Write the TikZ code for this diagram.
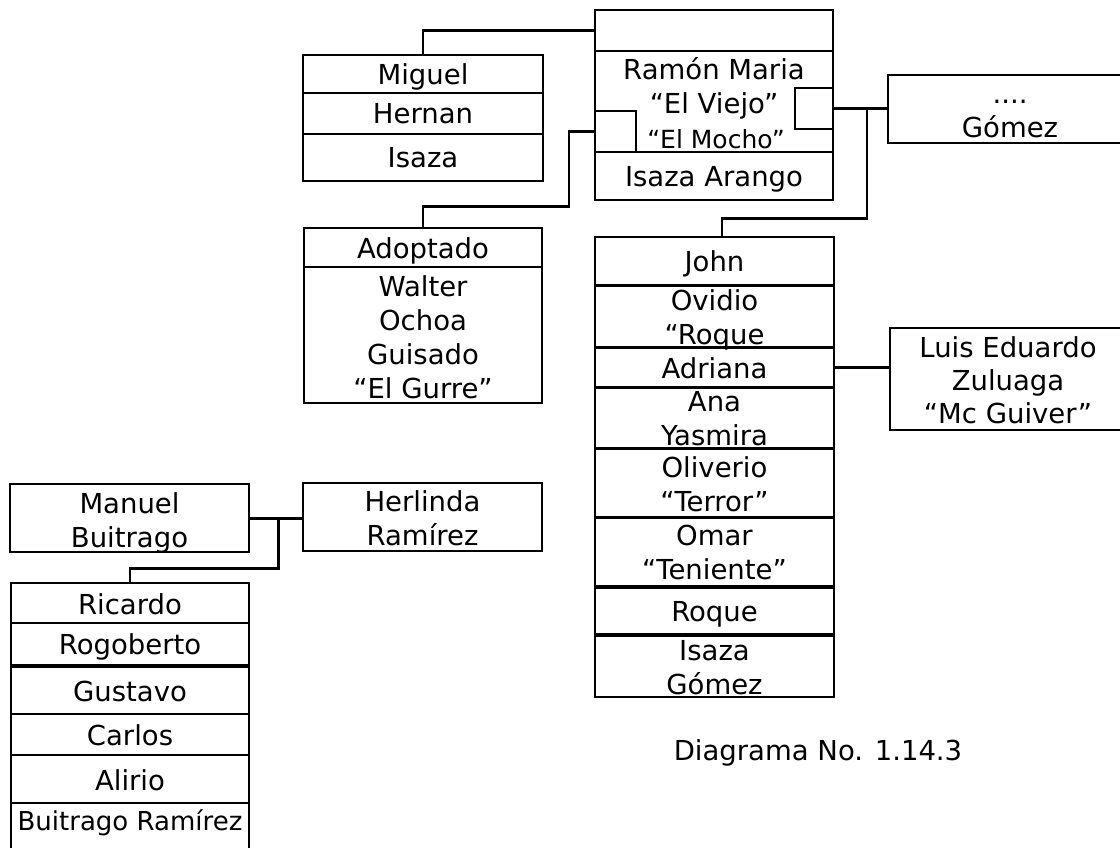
\documentclass[tikz,border=0pt]{standalone}
\usepackage{fontspec}
\setmainfont{DejaVu Sans}
\usetikzlibrary{fit,calc}
\newcommand\lns[1]{\begin{tabular}[t]{@{}c@{}}#1\end{tabular}}
\begin{document}
\begin{tikzpicture}[x=1pt,y=-1pt,
  cell/.style={draw, line width=2.4pt, inner sep=0pt},
  txt/.style={inner sep=0pt, anchor=base, font=\fontsize{27.5}{34}\selectfont},
  stxt/.style={inner sep=0pt, anchor=base, font=\fontsize{25}{30}\selectfont},
  link/.style={line width=2.2pt},
  tie/.style={line width=3pt}]
\useasboundingbox (0,0) rectangle (1120,847);
\clip (0,0) rectangle (1120,847);

% ---- Ramon Maria block ----
\node[cell, fit={(595,10) (833,51)}] (top0) {};
\node[cell, fit={(595,51) (833,152)}] (top1) {};
\node[cell, fit={(595,152) (833,200)}] (top2) {};
\node[cell, fit={(795,88) (833,129)}] (sqR) {};
\node[cell, fit={(595,111) (636,152)}] (sqL) {};
\node[txt] (t-top1) at (714,79) {\lns{Ramón Maria\\“El Viejo”}};
\node[stxt] (t-mocho) at (716,148) {“El Mocho”};
\node[txt] (t-top2) at (714,186) {Isaza Arango};

% ---- Miguel block ----
\node[cell, fit={(303,55) (543,93)}] (mig) {};
\node[cell, fit={(303,93) (543,134)}] (her) {};
\node[cell, fit={(303,134) (543,181)}] (isa) {};
\node[txt] (t-mig) at (423,84) {Miguel};
\node[txt] (t-her) at (423,123.5) {Hernan};
\node[txt] (t-isa) at (423,167.5) {Isaza};

% ---- Adoptado block ----
\node[cell, fit={(304,228) (542,267)}] (adop) {};
\node[cell, fit={(304,267) (542,403)}] (walt) {};
\node[txt] (t-adop) at (423,258.5) {Adoptado};
\node[txt] (t-walt) at (423,296) {\lns{Walter\\Ochoa\\Guisado\\“El Gurre”}};

% ---- Gomez ----
\node[cell, fit={(888,75) (1135,143)}] (gom) {};
\node[txt] (t-gom) at (1010,103) {\lns{....\\Gómez}};

% ---- children column ----
\node[cell, fit={(595,237) (834,285)}] (john) {};
\node[cell, fit={(595,286) (834,347)}] (ovi) {};
\node[cell, fit={(595,348) (834,387)}] (adr) {};
\node[cell, fit={(595,388) (834,448)}] (ana) {};
\node[cell, fit={(595,449) (834,517)}] (oli) {};
\node[cell, fit={(595,518) (834,586)}] (oma) {};
\node[cell, fit={(595,588) (834,634)}] (roq) {};
\node[cell, fit={(595,636) (834,697)}] (isg) {};
\node[txt] (t-john) at (714.5,271) {John};
\node[txt] (t-ovi) at (714.5,310) {\lns{Ovidio\\“Roque}};
\node[txt] (t-adr) at (714.5,378) {Adriana};
\node[txt] (t-ana) at (714.5,411) {\lns{Ana\\Yasmira}};
\node[txt] (t-oli) at (714.5,477) {\lns{Oliverio\\“Terror”}};
\node[txt] (t-oma) at (714.5,545) {\lns{Omar\\“Teniente”}};
\node[txt] (t-roq) at (714.5,621) {Roque};
\node[txt] (t-isg) at (714.5,660) {\lns{Isaza\\Gómez}};

% ---- Luis ----
\node[cell, fit={(890,328) (1128,430)}] (luis) {};
\node[txt, font=\fontsize{27.5}{33}\selectfont] (t-luis) at (1008,357) {\lns{Luis Eduardo\\Zuluaga\\“Mc Guiver”}};

% ---- Buitrago family ----
\node[cell, fit={(10,484) (249,552)}] (man) {};
\node[cell, fit={(303,483) (542,551)}] (herl) {};
\node[txt] (t-man) at (129.5,513) {\lns{Manuel\\Buitrago}};
\node[txt, font=\fontsize{27.5}{33.5}\selectfont] (t-herl) at (422.5,511.5) {\lns{Herlinda\\Ramírez}};
\node[cell, fit={(11,583) (249,623)}] (ric) {};
\node[cell, fit={(11,623) (249,665)}] (rog) {};
\node[cell, fit={(11,667) (249,714)}] (gus) {};
\node[cell, fit={(11,714) (249,755)}] (car) {};
\node[cell, fit={(11,755) (249,803)}] (ali) {};
\node[cell, fit={(11,803) (249,880)}] (bra) {};
\node[txt] (t-ric) at (130,614) {Ricardo};
\node[txt] (t-rog) at (130,654) {Rogoberto};
\node[txt] (t-gus) at (130,701) {Gustavo};
\node[txt] (t-car) at (130,745) {Carlos};
\node[txt] (t-ali) at (130,790) {Alirio};
\node[txt, font=\fontsize{26}{31}\selectfont] (t-bra) at (130,830) {Buitrago Ramírez};

% ---- caption ----
\node[txt] (cap) at (818,760) {Diagrama No. 1.14.3};

% ---- connectors ----
\draw[link] (top0.west) -| (mig.north);
\draw[link] (sqL.west) -- ++(-25,0) -- ++(0,75) -| (adop.north);
\draw[tie] (sqR.east) -- (gom.west |- sqR.east);
\coordinate (jx) at ($(sqR.east)+(33,0)$);
\coordinate (jn) at ($(john.north)+(7.5,0)$);
\draw[link] (jx) -- ++(0,110) -| (jn);
\draw[tie] (adr.east) -- (luis.west |- adr.east);
\draw[tie] (man.east) -- (herl.west |- man.east);
\coordinate (mh) at ($(man.east)!0.55!(herl.west)$);
\draw[link] (mh) -- ++(0,51) -| (ric.north);
\end{tikzpicture}
\end{document}
